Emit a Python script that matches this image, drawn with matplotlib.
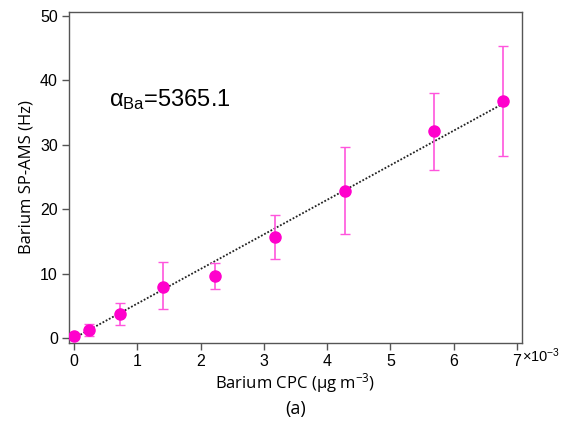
import matplotlib
matplotlib.use("Agg")
import matplotlib.pyplot as plt
import numpy as np

plt.rcParams["mathtext.fontset"] = "custom"
plt.rcParams["mathtext.rm"] = "Liberation Sans"
plt.rcParams["mathtext.it"] = "Liberation Sans"
plt.rcParams["mathtext.default"] = "regular"

# data (x in units of 1e-3 ug m^-3)
x = [0.0, 0.23, 0.72, 1.40, 2.22, 3.18, 4.28, 5.69, 6.78]
y = [0.3, 1.2, 3.8, 8.0, 9.6, 15.7, 22.8, 32.1, 36.8]
err_lo = [0.0, 0.9, 1.8, 3.5, 1.9, 3.4, 6.7, 6.0, 8.5]
err_hi = [0.0, 1.0, 1.7, 3.8, 2.0, 3.4, 6.8, 6.0, 8.6]
slope = 5365.1  # Hz per ug m^-3
fit_x = [0.0, 6.78]

xticks = [0, 1, 2, 3, 4, 5, 6, 7]
yticks = [0, 10, 20, 30, 40, 50]

fig = plt.figure(figsize=(5.61, 4.22), dpi=100)
ax = fig.add_axes([69/561, 1-343/422, (522-69)/561, (343-12)/422])

tick_font = "Liberation Sans"
lab_font = "Open Sans"

fx = np.array(fit_x)
ax.plot(fx, slope * fx * 1e-3, ls=(0, (1, 1)), color="#222222", lw=1.3, zorder=2)
ax.errorbar(x, y, yerr=[err_lo, err_hi], fmt="none", ecolor="#FF55DD", elinewidth=1.2,
            capsize=3.5, capthick=1.0, zorder=3)
ax.plot(x, y, "o", color="#FF00CC", ms=8, zorder=4)

ax.set_xlim(-0.08, 7.08)
ax.set_ylim(-0.75, 50.6)
ax.set_xticks(xticks)
ax.set_yticks(yticks)
ax.set_xticklabels([str(t) for t in xticks], fontfamily=tick_font, fontsize=11.5)
ax.set_yticklabels([str(t) for t in yticks], fontfamily=tick_font, fontsize=11.5)
ax.tick_params(direction="out", length=5, width=1, color="#555555", pad=3)
ax.tick_params(top=False, right=False)
for s in ax.spines.values():
    s.set_color("#555555")
    s.set_linewidth(1.0)

fig.text(521.5/561, 1-362/422, "×10$^{-3}$", fontsize=10.5, fontfamily=tick_font,
         ha="left", va="baseline")
ax.text(0.55, 37.0, r"α$_{Ba}$=5365.1", fontsize=17, fontfamily=tick_font,
        ha="left", va="center")

ax.set_ylabel("Barium SP-AMS (Hz)", fontfamily=lab_font, fontsize=12, labelpad=4)
fig.text((69+522)/2/561, 1-383/422, "Barium CPC (µg m$^{-3}$)", fontfamily=lab_font,
         fontsize=12, ha="center", va="center")
fig.text((69+522)/2/561, 1-409/422, "(a)", fontfamily=lab_font, fontsize=13,
         ha="center", va="center")

fig.savefig("out.png", dpi=100)
